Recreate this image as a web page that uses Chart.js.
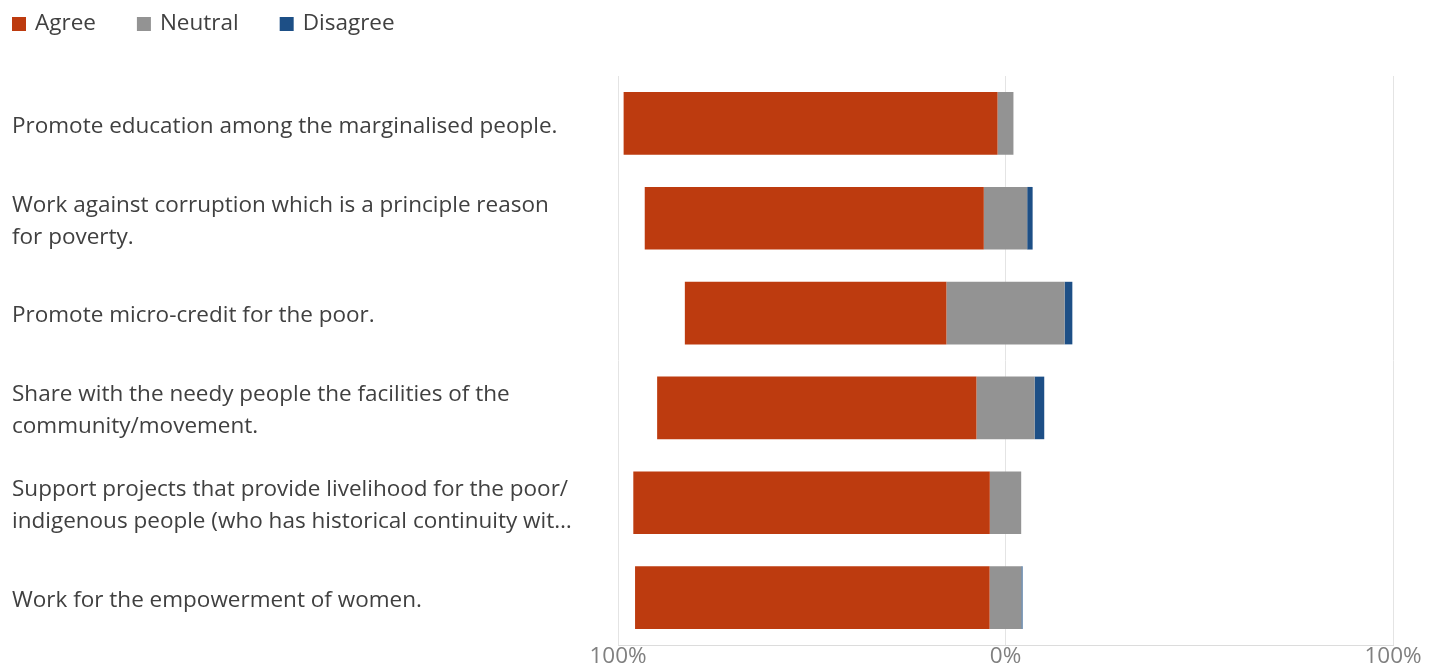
<!DOCTYPE html>
<html><head><meta charset="utf-8">
<script src="https://cdn.jsdelivr.net/npm/chart.js@4/dist/chart.umd.min.js"></script>
<style>html,body{margin:0;padding:0;background:#fff}#wrap{width:1441px;height:667px}</style>
</head><body><div id="wrap"><canvas id="c" width="1441" height="667"></canvas></div>
<script>
const categories = [
  "Promote education among the marginalised people.",
  ["Work against corruption which is a principle reason", "for poverty."],
  "Promote micro-credit for the poor.",
  ["Share with the needy people the facilities of the", "community/movement."],
  ["Support projects that provide livelihood for the poor/", "indigenous people (who has historical continuity wit\u2026"],
  "Work for the empowerment of women."
];
const agree    = [96.5, 87.5, 67.5, 82.4, 92.0, 91.5];
const neutral  = [4.1, 11.2, 30.5, 15.0, 8.1, 8.2];
const disagree = [0, 1.4, 2.0, 2.5, 0, 0.3];
const xTickLabels = ["100%", "0%", "100%"];
const seriesNames = ["Agree", "Neutral", "Disagree"];

const FONT = '"Open Sans", "Noto Sans", sans-serif';
const FS = 22.5;
const C_AGREE = '#BD3B0F', C_NEU = '#939393', C_DIS = '#1D4F86';

// Diverging layout: neutral centred on 0, agree to the left, disagree to the right
const agreeSpan    = agree.map((a, i) => [-(a + neutral[i] / 2), -neutral[i] / 2]);
const neutralSpan  = neutral.map(n => [-n / 2, n / 2]);
const disagreeSpan = disagree.map((d, i) => [neutral[i] / 2, neutral[i] / 2 + d]);

const legendPlugin = {
  id: 'customLegend',
  afterDraw(chart) {
    const ctx = chart.ctx;
    ctx.save();
    ctx.font = FS + 'px ' + FONT;
    ctx.textBaseline = 'middle';
    ctx.textAlign = 'left';
    let x = 12; const y = 24;
    chart.data.datasets.forEach(ds => {
      ctx.fillStyle = ds.backgroundColor;
      ctx.fillRect(x, y - 7, 14, 14);
      ctx.fillStyle = '#404040';
      ctx.fillText(ds.label, x + 23, y);
      x += 23 + ctx.measureText(ds.label).width + 41;
    });
    ctx.restore();
  }
};

new Chart(document.getElementById('c'), {
  type: 'bar',
  data: {
    labels: categories,
    datasets: [
      { label: seriesNames[0], data: agreeSpan, backgroundColor: C_AGREE },
      { label: seriesNames[1], data: neutralSpan, backgroundColor: C_NEU },
      { label: seriesNames[2], data: disagreeSpan, backgroundColor: C_DIS }
    ]
  },
  options: {
    indexAxis: 'y',
    responsive: false,
    devicePixelRatio: 1,
    animation: false,
    datasets: { bar: { barPercentage: 0.66, categoryPercentage: 1, borderWidth: 0, grouped: false } },
    layout: { padding: { left: 12, right: 48, top: 76, bottom: 0 } },
    plugins: { legend: { display: false }, tooltip: { enabled: false } },
    scales: {
      x: {
        min: -100, max: 100,
        ticks: { stepSize: 100, callback: (v, i) => xTickLabels[i], color: '#808080', font: { family: FONT, size: FS, lineHeight: 1.0 }, padding: 0, maxRotation: 0 },
        grid: { color: '#e4e4e4', drawTicks: false },
        border: { display: true, color: '#dcdcdc' },
        afterFit: s => { s.height = 22; }
      },
      y: {
        ticks: { crossAlign: 'far', labelOffset: 3, color: '#404040', font: { family: FONT, size: FS, lineHeight: 1.42 } },
        grid: { display: false },
        border: { display: false },
        afterFit: s => { s.width = 606; }
      }
    }
  },
  plugins: [legendPlugin]
});
</script>
</body></html>
